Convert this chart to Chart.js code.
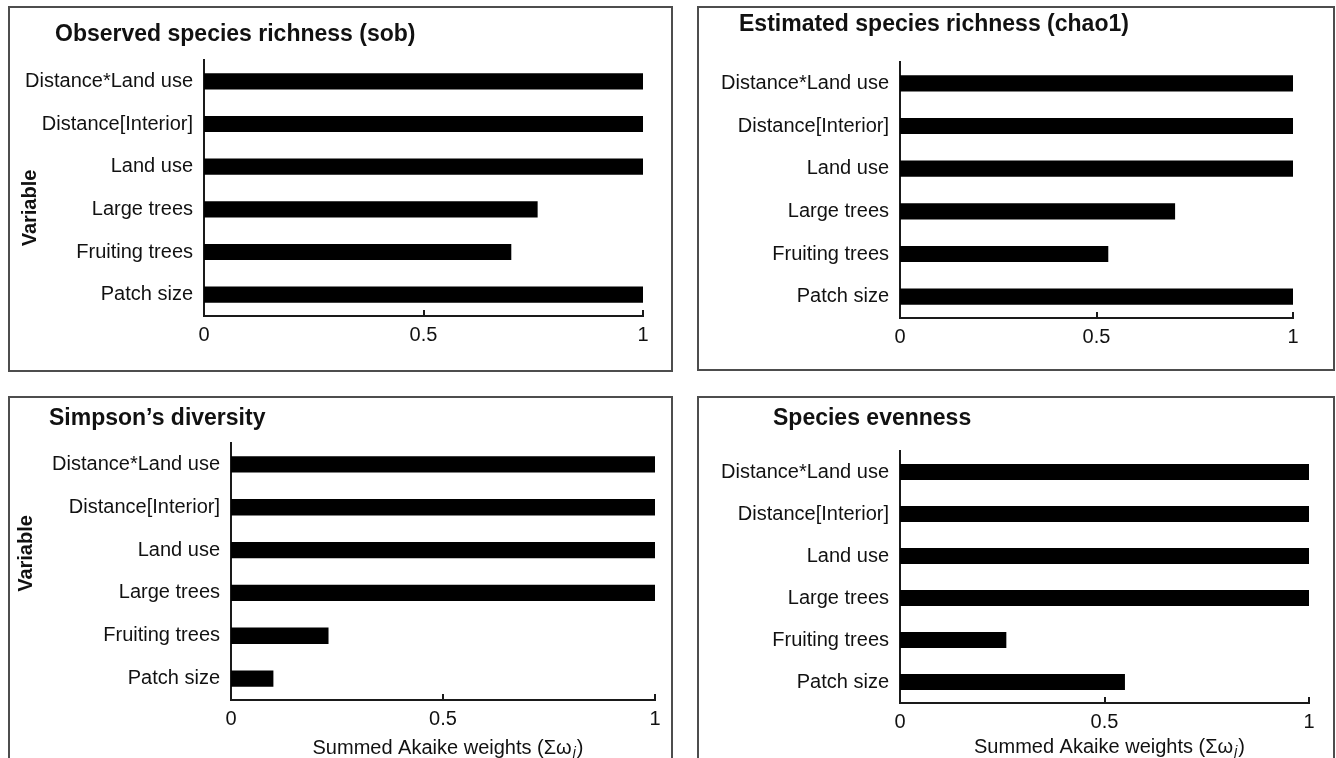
<!DOCTYPE html>
<html>
<head>
<meta charset="utf-8">
<script src="https://cdn.jsdelivr.net/npm/chart.js@4"></script>
<style>
  html, body { margin: 0; padding: 0; background: #fff; }
  #page { position: relative; width: 1336px; height: 758px; overflow: hidden; font-family: "Liberation Sans", Arial, sans-serif; }
  .box { position: absolute; border: 2px solid #4d4d4d; box-sizing: border-box; }
  canvas { position: absolute; }
  .ttl { position: absolute; font-weight: bold; font-size: 23px; line-height: 28px; color: #111; white-space: nowrap; }
</style>
</head>
<body>
<div id="page">
  <div class="box" style="left:8px;top:6px;width:665px;height:366px"></div>
  <div class="box" style="left:697px;top:6px;width:638px;height:365px"></div>
  <div class="box" style="left:8px;top:396px;width:665px;height:380px"></div>
  <div class="box" style="left:697px;top:396px;width:638px;height:380px"></div>

  <canvas id="sob" width="665" height="366" style="left:8px;top:6px"></canvas>
  <canvas id="chao1" width="638" height="365" style="left:697px;top:6px"></canvas>
  <canvas id="simpson" width="665" height="362" style="left:8px;top:396px"></canvas>
  <canvas id="evenness" width="638" height="362" style="left:697px;top:396px"></canvas>

  <div class="ttl" style="left:55px;top:19px">Observed species richness (sob)</div>
  <div class="ttl" style="left:739px;top:9px">Estimated species richness (chao1)</div>
  <div class="ttl" style="left:49px;top:403px">Simpson’s diversity</div>
  <div class="ttl" style="left:773px;top:403px">Species evenness</div>
</div>
<script>
// variables, top to bottom
var categories = ["Distance*Land use", "Distance[Interior]", "Land use", "Large trees", "Fruiting trees", "Patch size"];

// summed Akaike weights per response
var sobWeights = [1, 1, 1, 0.76, 0.70, 1];
var chao1Weights = [1, 1, 1, 0.70, 0.53, 1];
var simpsonWeights = [1, 1, 1, 1, 0.23, 0.10];
var evennessWeights = [1, 1, 1, 1, 0.26, 0.55];

var xTicks = [0, 0.5, 1];
var xTickLabels = ["0", "0.5", "1"];

var FONT = "'Liberation Sans', Arial, sans-serif";
Chart.defaults.font.family = FONT;
Chart.defaults.color = "#111";

// small tick marks pointing up into the plot
var innerTicks = {
  id: "innerTicks",
  afterDatasetsDraw: function (chart) {
    var sx = chart.scales.x, ctx = chart.ctx;
    ctx.save();
    ctx.strokeStyle = "#1a1a1a";
    ctx.lineWidth = 2;
    xTicks.forEach(function (v) {
      if (v === 0) return;
      var px = Math.round(sx.getPixelForValue(v));
      ctx.beginPath();
      ctx.moveTo(px, sx.top);
      ctx.lineTo(px, sx.top - 6);
      ctx.stroke();
    });
    ctx.restore();
  }
};

// "Variable" side title
var sideTitle = {
  id: "sideTitle",
  afterDraw: function (chart, args, opts) {
    if (!opts.display) return;
    var a = chart.chartArea, ctx = chart.ctx;
    ctx.save();
    ctx.translate(opts.x, (a.top + a.bottom) / 2 + opts.dy);
    ctx.rotate(-Math.PI / 2);
    ctx.font = "bold 20px " + FONT;
    ctx.fillStyle = "#111";
    ctx.textAlign = "center";
    ctx.textBaseline = "middle";
    ctx.fillText("Variable", 0, 0);
    ctx.restore();
  }
};

// x title with italic subscript j
var xTitle = {
  id: "xTitle",
  afterDraw: function (chart, args, opts) {
    if (!opts.display) return;
    var a = chart.chartArea, ctx = chart.ctx;
    var main = "Summed Akaike weights (\u03A3\u03C9", sub = "j", end = ")";
    ctx.save();
    ctx.fillStyle = "#111";
    ctx.textAlign = "left";
    ctx.textBaseline = "middle";
    ctx.font = "20px " + FONT;
    var w1 = ctx.measureText(main).width, w3 = ctx.measureText(end).width;
    ctx.font = "italic 14px " + FONT;
    var w2 = ctx.measureText(sub).width + 2;
    var x0 = (a.left + a.right) / 2 - (w1 + w2 + w3) / 2 + 5;
    var y = a.bottom + opts.offset;
    ctx.font = "20px " + FONT;
    ctx.fillText(main, x0, y);
    ctx.font = "italic 14px " + FONT;
    ctx.fillText(sub, x0 + w1 + 1, y + 5);
    ctx.font = "20px " + FONT;
    ctx.fillText(end, x0 + w1 + w2, y);
    ctx.restore();
  }
};

function makePanel(id, values, area, extra) {
  var canvas = document.getElementById(id);
  var W = canvas.width, H = canvas.height;
  return new Chart(canvas, {
    type: "bar",
    data: {
      labels: categories,
      datasets: [{
        data: values,
        backgroundColor: "#000",
        borderWidth: 0,
        barPercentage: 0.38,
        categoryPercentage: 1
      }]
    },
    options: {
      indexAxis: "y",
      responsive: false,
      animation: false,
      events: [],
      layout: { padding: { left: 0, top: area.t, right: W - area.r, bottom: 0 } },
      plugins: {
        legend: { display: false },
        tooltip: { enabled: false },
        sideTitle: extra.side || { display: false },
        xTitle: extra.xTitle || { display: false }
      },
      scales: {
        x: {
          min: 0,
          max: 1,
          grid: { display: false, drawTicks: false },
          border: { display: true, color: "#1a1a1a", width: 2 },
          ticks: {
            stepSize: 0.5,
            padding: 7,
            font: { size: 20 },
            color: "#111",
            callback: function (v) {
              var i = xTicks.indexOf(v);
              return i < 0 ? "" : xTickLabels[i];
            }
          },
          afterFit: function (s) { s.height = H - area.b; }
        },
        y: {
          grid: { display: false, drawTicks: false },
          border: { display: true, color: "#1a1a1a", width: 2 },
          ticks: { padding: 11, font: { size: 20 }, color: "#111", autoSkip: false },
          afterFit: function (s) { s.width = area.l; }
        }
      }
    },
    plugins: [innerTicks, sideTitle, xTitle]
  });
}

makePanel("sob", sobWeights, { l: 196, t: 54, r: 635, b: 310 },
  { side: { display: true, x: 22, dy: 20 } });
makePanel("chao1", chao1Weights, { l: 203, t: 56, r: 596, b: 312 }, {});
makePanel("simpson", simpsonWeights, { l: 223, t: 47, r: 647, b: 304 },
  { side: { display: true, x: 18, dy: -18 }, xTitle: { display: true, offset: 48 } });
makePanel("evenness", evennessWeights, { l: 203, t: 55, r: 612, b: 307 },
  { xTitle: { display: true, offset: 44 } });
</script>
</body>
</html>
